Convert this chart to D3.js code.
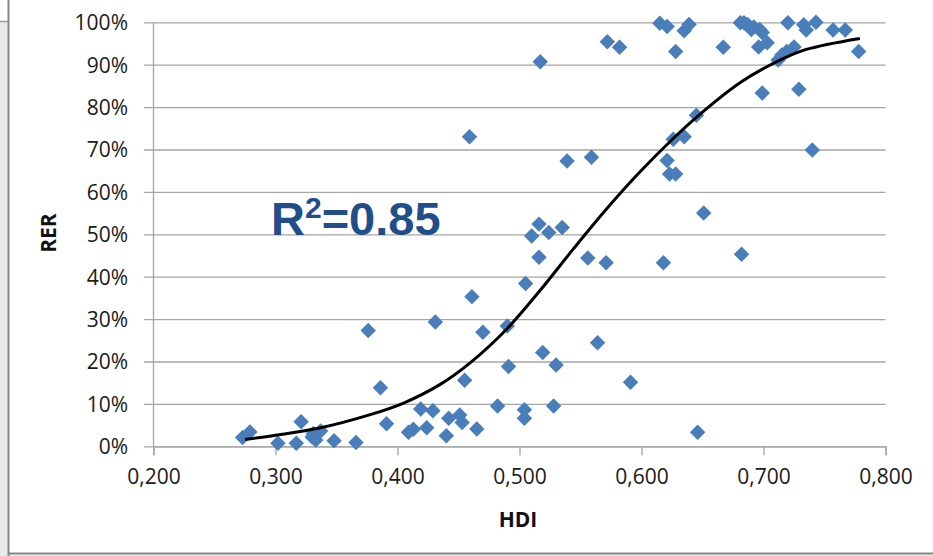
<!DOCTYPE html>
<html><head><meta charset="utf-8">
<script src="https://cdn.jsdelivr.net/npm/d3@7"></script>
<style>
html,body{margin:0;padding:0;background:#fff;}
svg{display:block;}
</style></head>
<body>
<svg id="chart" width="933" height="556"></svg>
<script>
const hdi = [0.273,0.279,0.302,0.317,0.321,0.331,0.333,0.337,0.330,0.348,0.366,0.376,0.386,0.391,0.409,0.413,0.419,0.424,0.429,0.431,0.440,0.442,0.451,0.453,0.455,0.459,0.461,0.465,0.470,0.482,0.490,0.491,0.504,0.504,0.505,0.510,0.516,0.516,0.517,0.519,0.524,0.528,0.530,0.535,0.539,0.556,0.559,0.564,0.571,0.572,0.582,0.591,0.615,0.618,0.621,0.621,0.623,0.626,0.628,0.628,0.635,0.635,0.639,0.645,0.646,0.651,0.667,0.681,0.682,0.684,0.687,0.690,0.692,0.696,0.697,0.699,0.699,0.703,0.712,0.715,0.719,0.720,0.725,0.729,0.733,0.735,0.740,0.743,0.757,0.767,0.778];
const rer = [2.1,3.4,0.7,0.7,5.8,3.0,1.5,3.6,2.2,1.3,0.9,27.3,13.8,5.3,3.3,4.0,8.8,4.4,8.4,29.3,2.5,6.6,7.4,5.6,15.6,73.0,35.3,4.1,26.9,9.5,28.4,18.8,8.6,6.6,38.4,49.6,52.4,44.6,90.7,22.1,50.4,9.5,19.2,51.6,67.3,44.4,68.2,24.4,43.3,95.4,94.1,15.1,99.8,43.3,99.0,67.4,64.2,72.4,64.2,93.1,98.0,73.0,99.5,78.1,3.3,55.0,94.1,99.9,45.3,99.9,99.5,98.3,98.9,94.2,98.3,97.6,83.3,95.2,91.1,92.3,93.1,99.9,94.2,84.2,99.4,98.2,69.9,100,98.2,98.2,93.1];
const trendHdi = [0.275,0.300,0.336,0.377,0.405,0.435,0.460,0.490,0.517,0.544,0.572,0.599,0.626,0.645,0.681,0.713,0.735,0.779];
const trendRer = [1.6,2.6,4.3,7.4,10.2,14.6,19.8,27.8,36.8,46.5,56.2,64.8,72.6,77.6,85.8,91.0,93.6,96.2];
const xTicks = [0.2,0.3,0.4,0.5,0.6,0.7,0.8];
const yTicks = [0,10,20,30,40,50,60,70,80,90,100];
const xTitle = "HDI";
const yTitle = "RER";
const r2Label = "0.85";

const svg = d3.select("#chart");
const font = "'Open Sans', 'Liberation Sans', sans-serif";

// frame
svg.append("rect").attr("x",0).attr("y",22).attr("width",8).attr("height",534).attr("fill","#e6eaea");
svg.append("rect").attr("x",9).attr("y",553).attr("width",924).attr("height",3).attr("fill","#e6eaea");
svg.append("line").attr("x1",0).attr("x2",8).attr("y1",21.5).attr("y2",21.5).attr("stroke","#999").attr("stroke-width",1.5);
svg.append("line").attr("x1",8.5).attr("x2",8.5).attr("y1",0).attr("y2",556).attr("stroke","#888").attr("stroke-width",2);
svg.append("line").attr("x1",8).attr("x2",933).attr("y1",553.5).attr("y2",553.5).attr("stroke","#888").attr("stroke-width",2);

const x = d3.scaleLinear().domain([0.2,0.8]).range([153.5,885.5]);
const y = d3.scaleLinear().domain([0,100]).range([446.3,22.3]);

// gridlines + y axis
const yAxis = d3.axisLeft(y).tickValues(yTicks).tickSize(-(885.5-144)).tickPadding(16)
  .tickFormat(d => d + "%");
const gy = svg.append("g").attr("transform","translate(144,0)").call(yAxis);
gy.select(".domain").remove();
gy.selectAll(".tick line").attr("stroke","#a5a5a5").attr("stroke-width",1.3);
gy.selectAll(".tick text").attr("x",-16).attr("font-family",font).attr("font-size",21).attr("fill","#1a1a1a").attr("dy","0.35em");

svg.append("line").attr("x1",153.5).attr("x2",153.5).attr("y1",22.3).attr("y2",446.3).attr("stroke","#a5a5a5").attr("stroke-width",1.3);

const xAxis = d3.axisBottom(x).tickValues(xTicks).tickSize(9).tickPadding(14)
  .tickFormat(d => d3.format(".3f")(d).replace(".",","));
const gx = svg.append("g").attr("transform","translate(0,446.3)").call(xAxis);
gx.select(".domain").attr("stroke","#a5a5a5").attr("stroke-width",1.3);
gx.selectAll(".tick line").attr("stroke","#a5a5a5").attr("stroke-width",1.3);
gx.selectAll(".tick text").attr("font-family",font).attr("font-size",21).attr("fill","#1a1a1a");

// titles
svg.append("text").attr("x",518).attr("y",520).attr("dy","0.35em").attr("text-anchor","middle")
  .attr("font-family",font).attr("font-weight","bold").attr("font-size",21).attr("fill","#111").text(xTitle);
svg.append("text").attr("transform","translate(49,233) rotate(-90)").attr("dy","0.35em").attr("text-anchor","middle")
  .attr("font-family",font).attr("font-weight","bold").attr("font-size",21).attr("fill","#111").text(yTitle);

// points
const pts = hdi.map((h,i)=>({h, r: rer[i]}));
const diamond = d3.symbol().type(d3.symbolSquare).size(120)();
svg.append("g").selectAll("path").data(pts).join("path")
  .attr("d", diamond)
  .attr("transform", d => `translate(${x(d.h)},${y(d.r)}) rotate(45)`)
  .attr("fill","#4A7EBB");

// trend line
const tr = trendHdi.map((h,i)=>[h, trendRer[i]]);
svg.append("path").datum(tr)
  .attr("d", d3.line().x(d=>x(d[0])).y(d=>y(d[1])).curve(d3.curveCatmullRom.alpha(0.5)))
  .attr("fill","none").attr("stroke","#000").attr("stroke-width",3);

// R² label
const t = svg.append("text").attr("x",271).attr("y",235)
  .attr("font-family","'Liberation Sans', Arial, sans-serif").attr("font-weight","bold")
  .attr("font-size",47).attr("fill","#1F4E89");
t.append("tspan").text("R");
t.append("tspan").attr("font-size",30).attr("dy",-17).text("2");
t.append("tspan").attr("dy",17).text("=" + r2Label);
</script>
</body></html>
